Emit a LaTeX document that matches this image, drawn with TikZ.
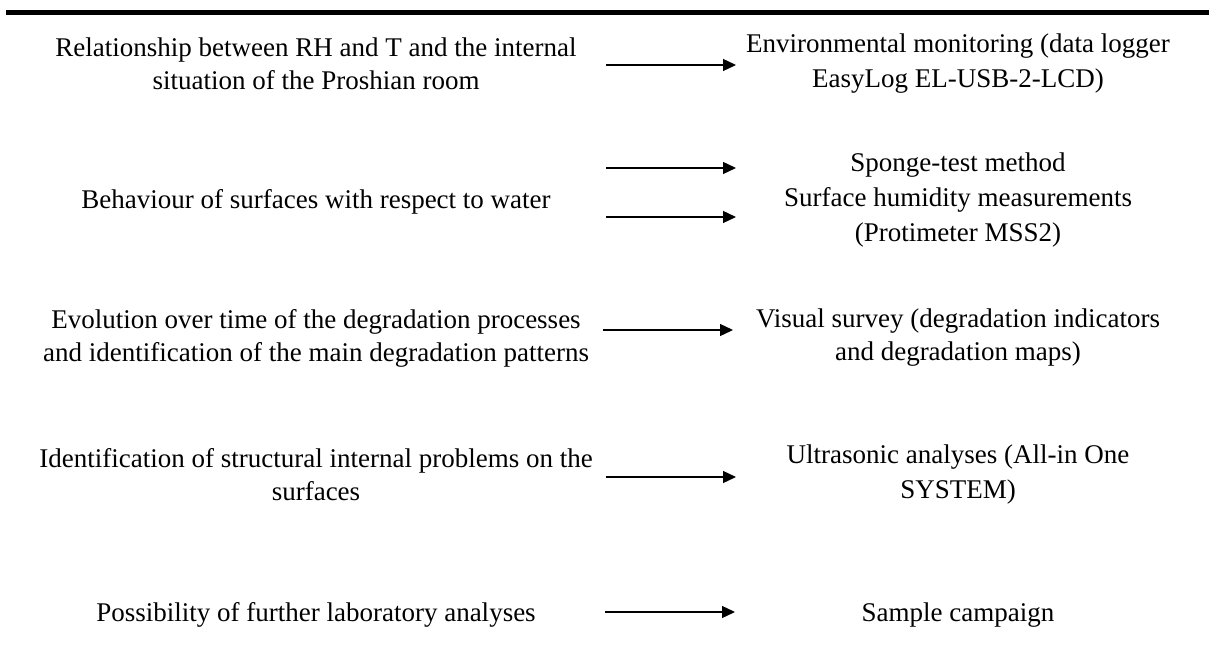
\documentclass[tikz,border=0pt]{standalone}
\usepackage{fontspec}
\setmainfont{Liberation Serif}
\usepackage{tikz}
\usetikzlibrary{arrows.meta, positioning}

\begin{document}
\begin{tikzpicture}[
    x=1pt, y=-1pt,
    item/.style={font=\fontsize{27}{33}\selectfont, align=center,
                 inner sep=0pt},
    link/.style={-{Triangle[length=13pt, width=12pt]}, line width=1.3pt}
]
    \useasboundingbox (0,0) rectangle (1209,660);
    \draw[line width=5pt] (6,12.5) -- (1209,12.5);

    % aims
    \node[item] (aim1) at (316,64) {Relationship between RH and T and the internal\\situation of the Proshian room};
    \node[item] (aim2) at (316,202) {Behaviour of surfaces with respect to water};
    \node[item] (aim3) at (316,338) {Evolution over time of the degradation processes\\and identification of the main degradation patterns};
    \node[item] (aim4) at (316,475) {Identification of structural internal problems on the\\surfaces};
    \node[item] (aim5) at (316,615) {Possibility of further laboratory analyses};

    % methods
    \node[item, font=\fontsize{27}{35}\selectfont] (meth1) at (958,64) {Environmental monitoring (data logger\\EasyLog EL-USB-2-LCD)};
    \node[item, font=\fontsize{27}{35}\selectfont] (meth2) at (958,200) {Sponge-test method\\Surface humidity measurements\\(Protimeter MSS2)};
    \node[item] (meth3) at (958,338) {Visual survey (degradation indicators\\and degradation maps)};
    \node[item, font=\fontsize{27}{35}\selectfont] (meth4) at (958,475) {Ultrasonic analyses (All-in One\\SYSTEM)};
    \node[item] (meth5) at (958,615) {Sample campaign};

    % arrow ends
    \coordinate (s1) at (606,65);  \coordinate (e1) at (736,65);
    \coordinate (s2a) at (606,168); \coordinate (e2a) at (736,168);
    \coordinate (s2b) at (606,217); \coordinate (e2b) at (736,217);
    \coordinate (s3) at (603,330); \coordinate (e3) at (733,330);
    \coordinate (s4) at (606,477); \coordinate (e4) at (736,477);
    \coordinate (s5) at (605,612); \coordinate (e5) at (735,612);

    \draw[link] (s1) -- (e1);
    \draw[link] (s2a) -- (e2a);
    \draw[link] (s2b) -- (e2b);
    \draw[link] (s3) -- (e3);
    \draw[link] (s4) -- (e4);
    \draw[link] (s5) -- (e5);
\end{tikzpicture}
\end{document}
